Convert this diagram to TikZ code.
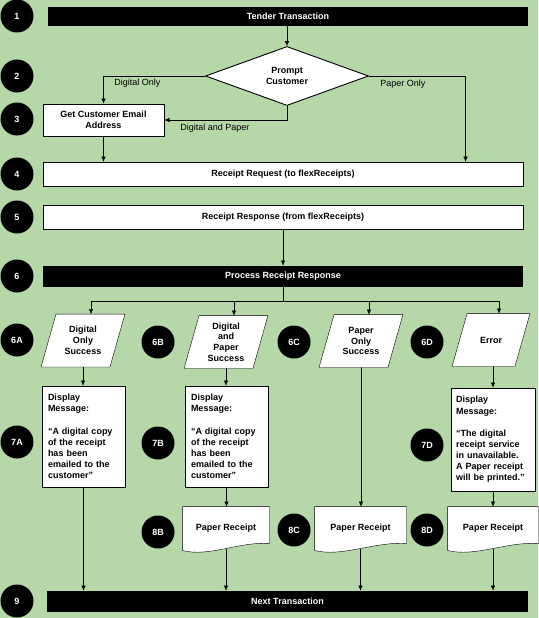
\documentclass[tikz,border=0pt]{standalone}
\usepackage{fontspec}
\setmainfont{Liberation Sans}
\usepackage{tikz}
\usetikzlibrary{shapes,arrows.meta,backgrounds,calc,positioning}

\definecolor{bggreen}{HTML}{B6D7A8}
\newcommand{\bfnine}{\fontsize{9}{10.8}\selectfont\bfseries}

\tikzset{
  numdot/.style={circle, fill=black, text=white, font=\bfnine, minimum size=33pt, inner sep=0pt},
  blackbar/.style={fill=black, text=white, font=\bfnine, minimum width=480pt, minimum height=19pt, inner sep=0pt},
  wbox/.style={draw, fill=white, font=\bfnine, align=center, inner sep=0pt, minimum width=480pt, minimum height=24pt},
  msgbox/.style={draw, fill=white, font=\fontsize{9}{11.1}\selectfont\bfseries, align=left, inner sep=0pt, minimum width=83pt, minimum height=101pt, text width=71pt},
  iobox/.style={font=\bfnine, align=center, inner sep=0pt, minimum width=68pt, minimum height=52pt},
  docbox/.style={font=\bfnine, inner sep=0pt, minimum height=42pt},
  lbl/.style={font=\fontsize{9}{11}\selectfont, anchor=west, inner sep=0pt}
}

\begin{document}
\begin{tikzpicture}[x=1pt, y=-1pt, line width=0.9pt, >={Latex[length=5pt,width=4.5pt]}]
\useasboundingbox (0,0) rectangle (538,618);

% step numbers
\foreach \lab/\x/\y in {1/17/16, 2/17/76, 3/17/119, 4/17/174, 5/17/217, 6/17/276,
  6A/17/340, 6B/158/342, 6C/294/342, 6D/427/342, 7A/17/442, 7B/158/443, 7D/427/445,
  8B/158/532, 8C/294/530, 8D/427/530, 9/17/601}
  \node[numdot] (n\lab) at (\x,\y) {\lab};

\node[blackbar] (tender) at (288,16.5) {Tender Transaction};
\node[shape=diamond, draw, fill=white, font=\bfnine, align=center, inner sep=0pt, minimum width=163pt, minimum height=54pt] (prompt) at (287,76) {Prompt\\Customer};
\node[wbox, minimum width=121pt, minimum height=32pt] (email) at (103.5,120) {Get Customer Email\\Address};
\node[wbox] (request) at (283,174) {Receipt Request (to flexReceipts)};
\node[wbox] (response) at (283,217) {Receipt Response (from flexReceipts)};
\node[blackbar, minimum height=21pt] (process) at (283,276.5) {Process Receipt Response};

\node[lbl] (lDigOnly) at (114,83) {Digital Only};
\node[lbl] (lDigPaper) at (180,128) {Digital and Paper};
\node[lbl] (lPaperOnly) at (380,84) {Paper Only};

% response types
\node[iobox] (s6A) at (83,340.5) {Digital\\Only\\Success};
\node[iobox] (s6B) at (226,342) {Digital\\and\\Paper\\Success};
\node[iobox] (s6C) at (361,341) {Paper\\Only\\Success};
\node[iobox, minimum width=62pt] (s6D) at (491,340) {Error};

\node[msgbox] (m7A) at (83.5,436.5) {Display\\Message:\\[11.1pt]“A digital copy\\of the receipt\\has been\\emailed to the\\customer”};
\node[msgbox] (m7B) at (226.5,436.5) {Display\\Message:\\[11.1pt]“A digital copy\\of the receipt\\has been\\emailed to the\\customer”};
\node[msgbox, minimum width=84pt, minimum height=103pt, text width=74pt] (m7D) at (493,439.5) {Display\\Message:\\[11.1pt]“The digital\\receipt service\\in unavailable.\\A Paper receipt\\will be printed.”};

\node[docbox, minimum width=86pt] (r8B) at (226,528) {Paper Receipt};
\node[docbox, minimum width=91pt] (r8C) at (360.5,528) {Paper Receipt};
\node[docbox, minimum width=90pt] (r8D) at (493,528) {Paper Receipt};

\node[blackbar, minimum width=481pt, minimum height=21pt] (next) at (287.5,601.5) {Next Transaction};

\coordinate (reqP) at ($(request.north west)+(423,0)$);
\coordinate (fork) at ($(process.south)+(0,14)$);

\begin{scope}[on background layer]
\fill[bggreen] (0,0) rectangle (538,618);
% connectors
\draw[->] (tender.south -| prompt.north) -- (prompt.north);
\draw[->] (prompt.west) -| (email.north);
\draw[->] (prompt.south) |- (email.east);
\draw[->] (prompt.east) -| (reqP);
\draw[->] (email.south) -- (email.south |- request.north);
\draw[->] (response.south) -- (response.south |- process.north);
\draw (process.south) -- (fork);
\foreach \io in {s6A,s6B,s6C,s6D}
  \draw[->] (fork) -| ([xshift=8pt]\io.north);
\draw[->] (s6A.south) -- (s6A.south |- m7A.north);
\draw[->] (s6B.south) -- (s6B.south |- m7B.north);
\draw[->] (s6C.south) -- (s6C.south |- r8C.north);
\draw[->] (s6D.south -| m7D.north) -- (m7D.north);
\draw[->] (m7B.south) -- (m7B.south |- r8B.north);
\draw[->] (m7D.south) -- (m7D.south |- r8D.north);
\foreach \nd in {m7A,r8B,r8C,r8D}
  \draw[->] (\nd.south) -- (\nd.south |- next.north);
% parallelograms
\foreach \io in {s6A,s6B,s6C,s6D}
  \draw[fill=white] ([xshift=-7.5pt]\io.south west) -- ([xshift=-7.5pt]\io.south east)
    -- ([xshift=7.5pt]\io.north east) -- ([xshift=7.5pt]\io.north west) -- cycle;
% paper receipts
\foreach \doc in {r8B,r8C,r8D}
  \draw[fill=white] ($(\doc.south west)+(0,1)$) -- (\doc.north west) -- (\doc.north east)
    -- ($(\doc.south east)+(0,-6)$)
    .. controls ($(\doc.south east)!0.35!(\doc.south west)+(0,-8)$) and ($(\doc.south east)!0.7!(\doc.south west)+(0,8)$) .. ($(\doc.south west)+(0,1)$) -- cycle;
\end{scope}
\end{tikzpicture}
\end{document}
